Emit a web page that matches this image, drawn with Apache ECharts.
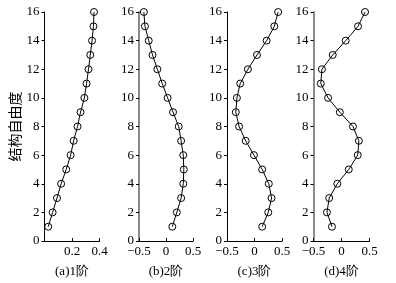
<!DOCTYPE html>
<html><head><meta charset="utf-8">
<script src="https://cdn.jsdelivr.net/npm/echarts@6/dist/echarts.min.js"></script>
<style>html,body{margin:0;padding:0;background:#fff}#c{width:396px;height:283px}</style>
</head><body><div id="c"></div>
<script>
var dof = [1,2,3,4,5,6,7,8,9,10,11,12,13,14,15,16];
var mode1 = [0.027,0.059,0.091,0.121,0.158,0.19,0.212,0.24,0.262,0.29,0.306,0.32,0.333,0.346,0.356,0.36];
var mode2 = [0.117,0.2,0.28,0.32,0.33,0.32,0.28,0.235,0.13,0.03,-0.07,-0.16,-0.25,-0.32,-0.39,-0.41];
var mode3 = [0.14,0.25,0.31,0.26,0.14,-0.01,-0.16,-0.28,-0.34,-0.32,-0.26,-0.12,0.045,0.22,0.36,0.43];
var mode4 = [-0.17,-0.26,-0.22,-0.075,0.13,0.29,0.31,0.205,-0.03,-0.24,-0.37,-0.35,-0.157,0.075,0.295,0.42];
var captions = ['(a)1阶','(b)2阶','(c)3阶','(d)4阶'];
var yName = '结构自由度';
var yTicks = {min:0, max:16, interval:2};

var modes = [mode1, mode2, mode3, mode4];
var grids = [
  {left:44.5, width:55},
  {left:139, width:54},
  {left:227, width:55},
  {left:313.5, width:56}
];
var font = 'Liberation Serif';
var chart = echarts.init(document.getElementById('c'), null, {renderer:'canvas'});
var option = {
  animation:false,
  backgroundColor:'#fff',
  grid: grids.map(function(g){return {left:g.left, width:g.width, top:12, bottom:39};}),
  xAxis: grids.map(function(g,i){
    var a = {
      gridIndex:i, type:'value',
      name: captions[i], nameLocation:'middle', nameGap:24,
      nameTextStyle:{fontFamily:font, fontSize:13, color:'#000'},
      axisLine:{show:true, onZero:false, lineStyle:{color:'#000', width:1}},
      axisTick:{show:true, inside:true, length:3, lineStyle:{color:'#000'}},
      splitLine:{show:false},
      axisLabel:{fontFamily:font, fontSize:13, color:'#000', margin:4,
        formatter:function(v){ if(i===0 && v===0) return ''; return (v<0?'\u2212':'')+Math.abs(v); }}
    };
    if(i===0){a.min=0;a.max=0.4;a.interval=0.2;} else {a.min=-0.5;a.max=0.5;a.interval=0.5;}
    return a;
  }),
  yAxis: grids.map(function(g,i){
    var thick = (i===1||i===3);
    return {
      gridIndex:i, type:'value', min:yTicks.min, max:yTicks.max, interval:yTicks.interval,
      name: i===0 ? yName : '', nameLocation:'middle', nameGap:23, nameRotate:90,
      nameTextStyle:{fontFamily:'Noto Sans CJK SC', fontSize:14, color:'#000'},
      axisLine:{show:true, onZero:false, lineStyle:{color: thick?'#8a8a8a':'#000', width: thick?2:1}},
      axisTick:{show:true, inside:false, length:3, lineStyle:{color:'#000'}},
      splitLine:{show:false},
      axisLabel:{fontFamily:font, fontSize:13, color:'#000', margin:5}
    };
  }),
  series: modes.map(function(m,i){
    return {
      type:'line', xAxisIndex:i, yAxisIndex:i,
      data: dof.map(function(d,k){return [m[k], d];}),
      symbol:'circle', symbolSize:7, showAllSymbol:true,
      lineStyle:{color:'#000', width:1},
      itemStyle:{color:'rgba(0,0,0,0)', borderColor:'#000', borderWidth:1},
      z:2
    };
  })
};
chart.setOption(option);
</script></body></html>
